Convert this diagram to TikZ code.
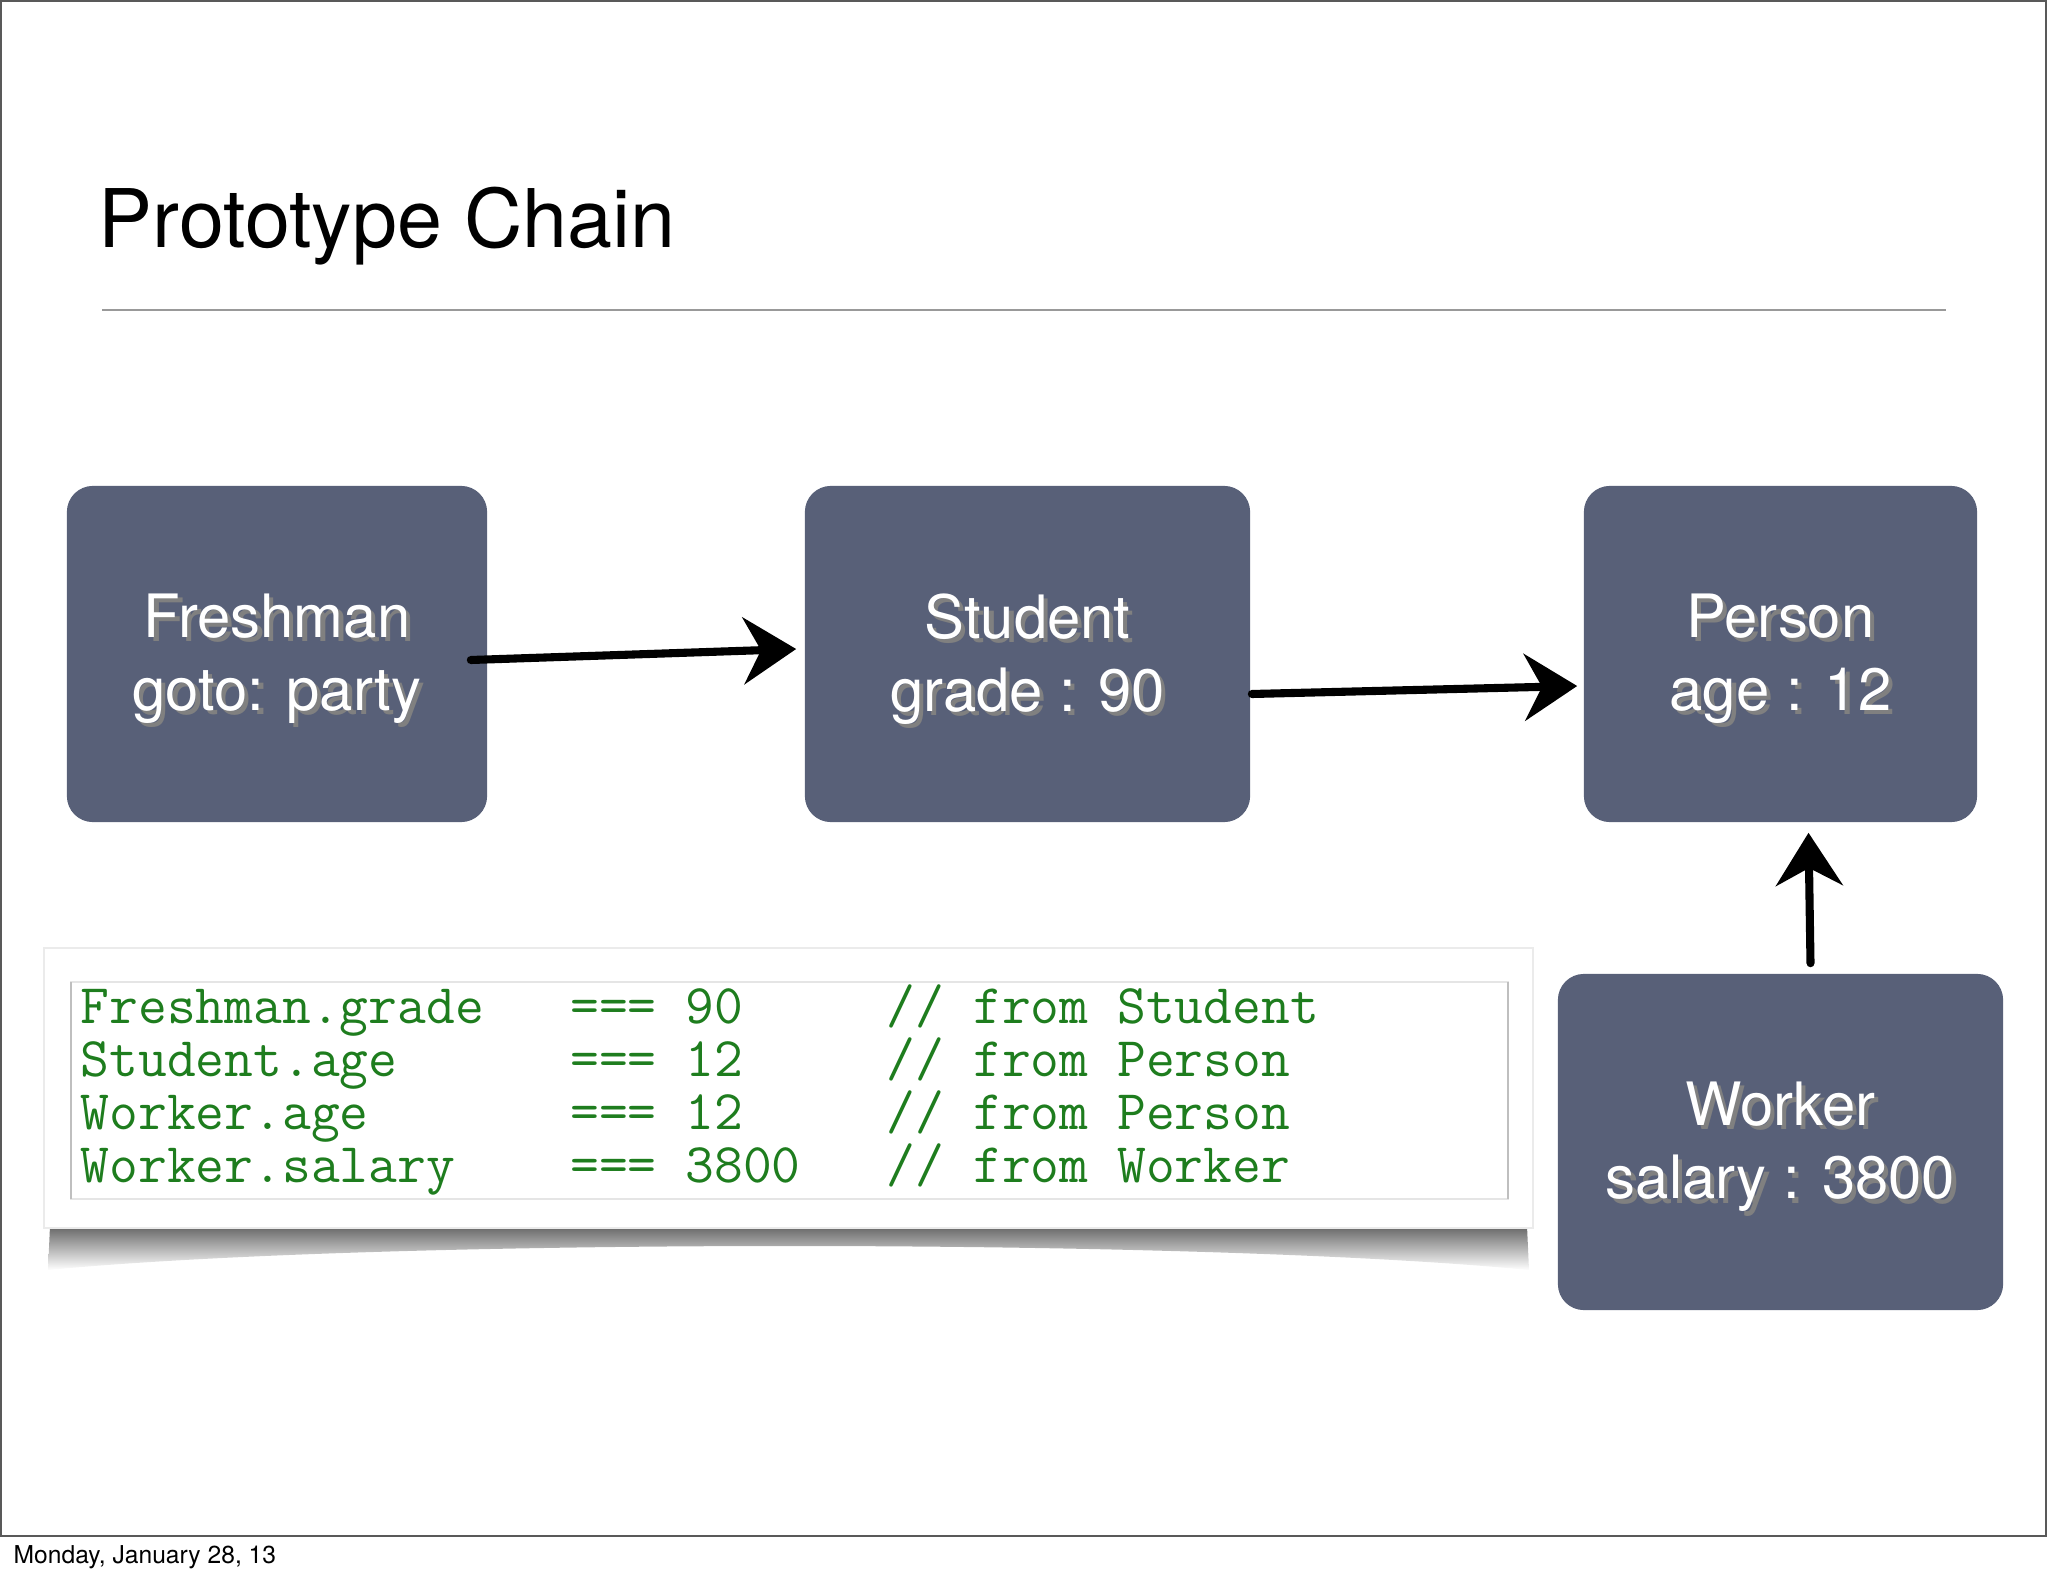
\documentclass[tikz,border=0pt]{standalone}
\usepackage{fontspec}
\setmainfont{TeX Gyre Heros}
\usetikzlibrary{arrows.meta,calc}

\definecolor{slate}{RGB}{88,96,120}
\definecolor{codegreen}{RGB}{30,125,30}
\newcommand\shtxt[1]{\raisebox{-2pt}[\height][\depth]{\rlap{\kern1.2pt\raisebox{-1.2pt}{\textcolor{black!50}{#1}}}#1}}

\tikzset{
  cls/.style={fill=slate, rounded corners=0.26cm, minimum height=3.36cm, inner sep=0pt,
    text=white, align=center, font=\fontsize{17}{20.8}\selectfont},
  link/.style={-{Stealth[length=15pt,width=19pt,inset=5pt]}, line width=2.3pt, line cap=round},
  code/.style={anchor=base west, inner sep=0pt, text=codegreen,
    font=\ttfamily\fontsize{15.9}{15}\selectfont},
}

\begin{document}
\begin{tikzpicture}[x=0.01cm, y=-0.01cm]
   \useasboundingbox (0,0) rectangle (2048,1576);
   \draw [black!65, line width=0.6pt] (1,1) rectangle (2046,1536);
   \node [anchor=base west, inner sep=0pt, font=\fontsize{23}{28}\selectfont] (title) at (98,248) {Prototype Chain};
   \draw [black!40, line width=0.5pt] (102,310) -- (1946,310);
   \node [anchor=base west, inner sep=0pt, font=\fontsize{7}{8}\selectfont] (date) at (13,1563) {Monday, January 28, 13};

   % code panel with its lifted shadow
   \shade [top color=black!60, bottom color=white] (50,1226) -- (1527,1226) -- (1529,1270)
      .. controls (1200,1238) and (380,1238) .. (48,1270) -- cycle;
   \fill [white, draw=black!8] (44,948) rectangle (1533,1228);
   \draw [black!10] (71,982) rectangle (1508,1199);
   \draw [black!25] (71,982) -- (71,1199) (1508,982) -- (1508,1199);
   \foreach \txt [count=\i] in {Freshman.grade~~~===~90~~~~~//~from~Student,
                                Student.age~~~~~~===~12~~~~~//~from~Person,
                                Worker.age~~~~~~~===~12~~~~~//~from~Person,
                                Worker.salary~~~~===~3800~~~//~from~Worker}
      \node [code] (code\i) at (80,{1023+53.3*(\i-1)}) {\txt};

   % objects
   \node [cls, minimum width=4.2cm] (fresh) at (277,654) {\shtxt{Freshman}\\\shtxt{goto: party}};
   \node [cls, minimum width=4.45cm] (stud) at (1027.5,654) {\shtxt{Student}\\\shtxt{grade : 90}};
   \node [cls, minimum width=3.93cm] (pers) at (1780.5,654) {\shtxt{Person}\\\shtxt{age : 12}};
   \node [cls, minimum width=4.45cm] (work) at (1780.5,1142) {\shtxt{Worker}\\\shtxt{salary : 3800}};

   \draw [link] ($(fresh.east)+(-17,6)$) -- ($(stud.west)+(-8,-5)$);
   \draw [link] ($(stud.east)+(1,40)$) -- ($(pers.west)+(-6,32)$);
   \draw [link] ($(work.north)+(30,-10)$) -- ($(pers.south)+(28,10)$);
\end{tikzpicture}
\end{document}
